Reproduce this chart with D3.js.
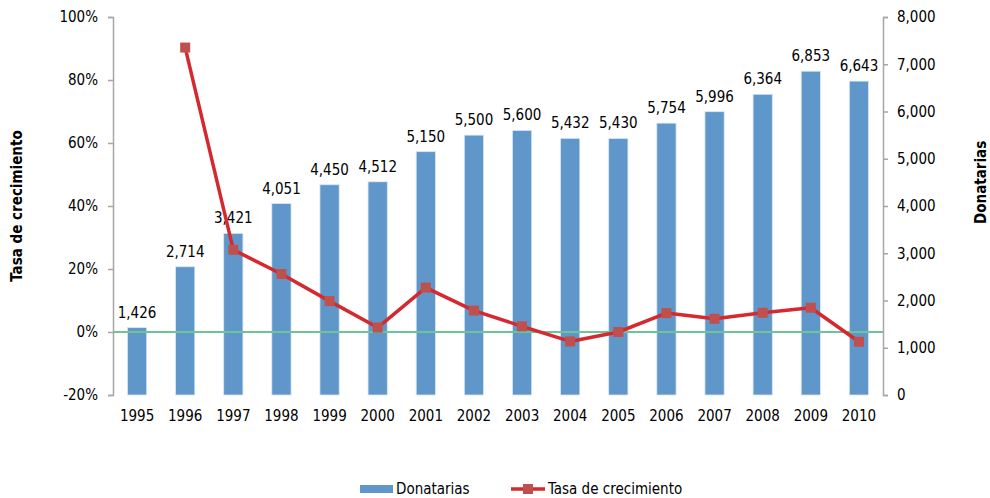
<!DOCTYPE html>
<html>
<head>
<meta charset="utf-8">
<script src="https://cdn.jsdelivr.net/npm/d3@7"></script>
<style>
  body { margin: 0; background: #fff; }
  text { font-family: "DejaVu Sans Condensed", "DejaVu Sans", sans-serif; fill: #000; }
</style>
</head>
<body>
<div id="chart"></div>
<script>
// Data
const years = ["1995", "1996", "1997", "1998", "1999", "2000", "2001", "2002",
  "2003", "2004", "2005", "2006", "2007", "2008", "2009", "2010"];
const donatarias = [1426, 2714, 3421, 4051, 4450, 4512, 5150, 5500,
  5600, 5432, 5430, 5754, 5996, 6364, 6853, 6643];
const tasa = [null, 90.3, 26.1, 18.4, 9.8, 1.4, 14.1, 6.8,
  1.8, -3.0, 0.0, 6.0, 4.2, 6.1, 7.7, -3.1];
const leftTicks = [-20, 0, 20, 40, 60, 80, 100];
const rightTicks = [0, 1000, 2000, 3000, 4000, 5000, 6000, 7000, 8000];

const width = 990, height = 498;
const margin = { top: 17, right: 107, bottom: 103, left: 113 };
const fontSize = "15px";

const svg = d3.select("#chart").append("svg")
  .attr("width", width)
  .attr("height", height);

const x = d3.scaleBand()
  .domain(years)
  .range([margin.left, width - margin.right])
  .padding(0);

const yL = d3.scaleLinear()
  .domain([-20, 100])
  .range([height - margin.bottom, margin.top]);

const yR = d3.scaleLinear()
  .domain([0, 8000])
  .range([height - margin.bottom, margin.top]);

const barW = x.bandwidth() * 0.4;
const fmt = d3.format(",");

// Bars
svg.append("g")
  .selectAll("rect")
  .data(years)
  .enter()
  .append("rect")
  .attr("x", (d) => x(d) + (x.bandwidth() - barW) / 2)
  .attr("y", (d, i) => yR(donatarias[i]))
  .attr("width", barW)
  .attr("height", (d, i) => yR(0) - yR(donatarias[i]))
  .style("fill", "#5f97ca")
  .style("stroke", "#dbe7f3")
  .style("stroke-width", 0.8);

// Bar labels
svg.append("g")
  .selectAll("text")
  .data(years)
  .enter()
  .append("text")
  .attr("x", (d) => x(d) + x.bandwidth() / 2)
  .attr("y", (d, i) => yR(donatarias[i]) - 10)
  .attr("text-anchor", "middle")
  .style("font-size", fontSize)
  .text((d, i) => fmt(donatarias[i]));

// Zero line
svg.append("line")
  .attr("x1", margin.left)
  .attr("x2", width - margin.right)
  .attr("y1", yL(0))
  .attr("y2", yL(0))
  .style("stroke", "#6cc497")
  .style("stroke-width", 2);

// Axes
const axisL = svg.append("g")
  .attr("transform", "translate(" + margin.left + ",0)")
  .call(d3.axisLeft(yL).tickValues(leftTicks).tickSize(5).tickPadding(10)
    .tickFormat((d) => d + "%"));

const axisR = svg.append("g")
  .attr("transform", "translate(" + (width - margin.right) + ",0)")
  .call(d3.axisRight(yR).tickValues(rightTicks).tickSize(5).tickPadding(9)
    .tickFormat(fmt));

[axisL, axisR].forEach((g) => {
  g.selectAll(".domain").style("stroke", "#a6a6a6").style("stroke-width", 1.5);
  g.selectAll(".tick line").style("stroke", "#a6a6a6").style("stroke-width", 1.5);
  g.selectAll("text").style("font-size", fontSize).style("font-family", null);
});

// X labels
svg.append("g")
  .selectAll("text")
  .data(years)
  .enter()
  .append("text")
  .attr("x", (d) => x(d) + x.bandwidth() / 2)
  .attr("y", 421)
  .attr("text-anchor", "middle")
  .style("font-size", fontSize)
  .text((d) => d);

// Growth line
const line = d3.line()
  .defined((d) => d != null)
  .x((d, i) => x(years[i]) + x.bandwidth() / 2)
  .y((d) => yL(d));

svg.append("path")
  .datum(tasa)
  .attr("d", line)
  .style("fill", "none")
  .style("stroke", "#d42a2f")
  .style("stroke-width", 3.5)
  .style("stroke-linejoin", "round");

svg.append("g")
  .selectAll("rect")
  .data(years.filter((d, i) => tasa[i] != null))
  .enter()
  .append("rect")
  .attr("x", (d) => x(d) + x.bandwidth() / 2 - 5)
  .attr("y", (d) => yL(tasa[years.indexOf(d)]) - 5)
  .attr("width", 10)
  .attr("height", 10)
  .style("fill", "#c0504d");

// Axis titles
svg.append("text")
  .attr("transform", "translate(22," + yL(40) + ") rotate(-90)")
  .attr("text-anchor", "middle")
  .style("font-size", fontSize)
  .style("font-weight", "bold")
  .text("Tasa de crecimiento");

svg.append("text")
  .attr("transform", "translate(986," + yR(4500) + ") rotate(-90)")
  .attr("text-anchor", "middle")
  .style("font-size", fontSize)
  .style("font-weight", "bold")
  .text("Donatarias");

// Legend
const legend = svg.append("g").attr("transform", "translate(360,489)");
legend.append("rect")
  .attr("x", 0).attr("y", -4)
  .attr("width", 33).attr("height", 8)
  .style("fill", "#5f97ca");
legend.append("text")
  .attr("x", 36).attr("y", 5)
  .style("font-size", fontSize)
  .text("Donatarias");
legend.append("line")
  .attr("x1", 151).attr("x2", 185)
  .attr("y1", 0).attr("y2", 0)
  .style("stroke", "#d42a2f").style("stroke-width", 3.5);
legend.append("rect")
  .attr("x", 163).attr("y", -5)
  .attr("width", 10).attr("height", 10)
  .style("fill", "#c0504d");
legend.append("text")
  .attr("x", 188).attr("y", 5)
  .style("font-size", fontSize)
  .text("Tasa de crecimiento");
</script>
</body>
</html>
